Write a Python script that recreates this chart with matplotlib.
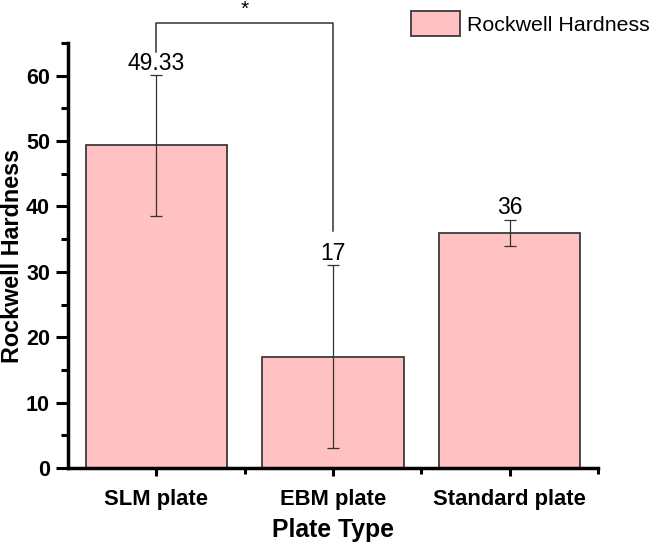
import numpy as np
from matplotlib import pyplot as plt
from matplotlib.ticker import MultipleLocator, FixedLocator

plt.rcParams['font.family'] = ['Liberation Sans', 'DejaVu Sans']

# data
plates = ['SLM plate', 'EBM plate', 'Standard plate']
hardness = [49.33, 17, 36]
hardness_err = [10.8, 14, 2]
value_labels = ['49.33', '17', '36']
series_name = 'Rockwell Hardness'

fig = plt.figure(figsize=(6.56, 5.47), dpi=100)
ax = fig.add_axes([0.1037, 0.1444, 0.8079, 0.777])

x = np.arange(len(plates))
ax.bar(x, hardness, width=0.8, color='#ffc1c1', edgecolor='#3a3a3a', linewidth=1.3,
       label=series_name, zorder=2)
ax.errorbar(x, hardness, yerr=hardness_err, fmt='none', ecolor='#333333',
            elinewidth=0.9, capsize=4, capthick=0.9, zorder=3)

for xi, h, e, lab in zip(x, hardness, hardness_err, value_labels):
    ax.text(xi, h + e + 0.8, lab, ha='center', va='baseline', fontsize=16.5)

ax.set_xlim(-0.5, 2.5)
ax.set_ylim(0, 65)
ax.set_xticks(x)
ax.set_xticklabels(plates, fontsize=15.8, fontweight='bold')
ax.xaxis.set_minor_locator(FixedLocator([0.5, 1.5, 2.5]))
ax.yaxis.set_major_locator(MultipleLocator(10))
ax.yaxis.set_minor_locator(MultipleLocator(5))
for lab in ax.get_yticklabels():
    lab.set_fontweight('bold')
    lab.set_fontsize(15.5)

ax.tick_params(axis='y', which='major', length=9, width=2.2, direction='out', pad=4)
ax.tick_params(axis='y', which='minor', length=5, width=2.2, direction='out')
ax.tick_params(axis='x', which='major', length=6, width=2.2, direction='out', pad=9)
ax.tick_params(axis='x', which='minor', length=4, width=2.2, direction='out')

for pos in ['top', 'right']:
    ax.spines[pos].set_visible(False)
for pos in ['left', 'bottom']:
    ax.spines[pos].set_linewidth(2.5)

ax.set_xlabel('Plate Type', fontsize=17.8, fontweight='bold', labelpad=6)
ax.set_ylabel('Rockwell Hardness', fontsize=16.8, fontweight='bold')
ax.yaxis.set_label_coords(-0.084, 0.5)

# significance bracket between SLM and EBM
ax.plot([0, 0, 1, 1], [63.6, 68.0, 68.0, 36.2], color='#333333', lw=1.1,
        clip_on=False, zorder=4)
ax.text(0.5, 69.3, '*', ha='center', va='baseline', fontsize=15)

ax.legend(loc='upper right', bbox_to_anchor=(1.113, 1.095), frameon=False, fontsize=15.4,
          handlelength=2.3, handleheight=1.4, handletextpad=0.3, borderaxespad=0)

plt.savefig('out.png', dpi=100)
